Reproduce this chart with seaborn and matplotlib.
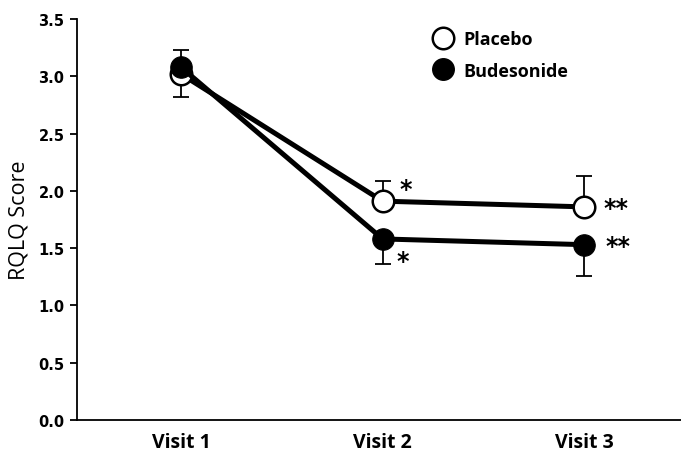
import numpy as np
import pandas as pd
import matplotlib
matplotlib.use('Agg')
import matplotlib.pyplot as plt
import seaborn as sns
from matplotlib.lines import Line2D

visits = ['Visit 1', 'Visit 2', 'Visit 3']
placebo = [3.02, 1.91, 1.86]
budesonide = [3.08, 1.58, 1.53]
# one-sided error bars (lower, upper)
placebo_err_lo = [0.20, 0.0, 0.0]
placebo_err_hi = [0.0, 0.18, 0.27]
bud_err_lo = [0.0, 0.22, 0.27]
bud_err_hi = [0.15, 0.0, 0.0]
stars_placebo = ['', '*', '**']
stars_bud = ['', '*', '**']

sns.set_style('ticks')
plt.rcParams['text.color'] = 'black'
plt.rcParams['axes.labelcolor'] = 'black'
plt.rcParams['xtick.color'] = 'black'
plt.rcParams['ytick.color'] = 'black'
plt.rcParams['axes.edgecolor'] = 'black'

df = pd.DataFrame({
    'visit': visits * 2,
    'x': list(range(3)) * 2,
    'score': placebo + budesonide,
    'group': ['Placebo'] * 3 + ['Budesonide'] * 3,
})

fig = plt.figure(figsize=(6.81, 4.56), dpi=100)
ax = fig.add_axes([0.113, 0.077, 0.887, 0.879])

x = np.arange(len(visits))
ax.errorbar(x, placebo, yerr=[placebo_err_lo, placebo_err_hi], fmt='none',
            ecolor='black', elinewidth=1.3, capsize=6, capthick=1.3, zorder=1)
ax.errorbar(x, budesonide, yerr=[bud_err_lo, bud_err_hi], fmt='none',
            ecolor='black', elinewidth=1.3, capsize=6, capthick=1.3, zorder=1)

sns.lineplot(data=df[df.group == 'Placebo'], x='x', y='score', color='black',
             lw=3.6, marker='o', markersize=15.5, markerfacecolor='white',
             markeredgecolor='black', markeredgewidth=1.8, ax=ax, zorder=3)
sns.lineplot(data=df[df.group == 'Budesonide'], x='x', y='score', color='black',
             lw=3.6, marker='o', markersize=15.5, markerfacecolor='black',
             markeredgecolor='black', ax=ax, zorder=4)

# significance stars (offsets in points from each marker)
star_off_placebo = [None, (12, 9), (14, -1)]
star_off_bud = [None, (10, -16), (15, -1)]
for i in range(3):
    if stars_placebo[i]:
        ax.annotate(stars_placebo[i], (x[i], placebo[i]),
                    xytext=star_off_placebo[i], textcoords='offset points',
                    fontsize=17, fontweight='bold', ha='left', va='center')
    if stars_bud[i]:
        ax.annotate(stars_bud[i], (x[i], budesonide[i]),
                    xytext=star_off_bud[i], textcoords='offset points',
                    fontsize=17, fontweight='bold', ha='left', va='center')

ax.set_xlim(-0.516, 2.48)
ax.set_ylim(0, 3.5)
ax.set_yticks(np.arange(0, 3.51, 0.5))
ax.set_yticklabels([f'{v:.1f}' for v in np.arange(0, 3.51, 0.5)],
                   fontsize=10.5, fontweight='bold', family='DejaVu Sans')
ax.set_xticks(x)
ax.set_xticklabels(visits, fontsize=14, fontweight='bold', family='Open Sans')
ax.tick_params(axis='x', length=0, pad=9)
ax.tick_params(axis='y', length=5, width=1.3, pad=4)
ax.set_xlabel('')
ax.set_ylabel('RQLQ Score', fontsize=15.5, family='Open Sans', labelpad=6)
sns.despine(ax=ax)
for s in ['left', 'bottom']:
    ax.spines[s].set_linewidth(1.3)

handles = [
    Line2D([], [], ls='none', marker='o', markersize=15.5, markerfacecolor='white',
           markeredgecolor='black', markeredgewidth=1.8),
    Line2D([], [], ls='none', marker='o', markersize=15.5, markerfacecolor='black',
           markeredgecolor='black'),
]
fig.legend(handles, ['Placebo', 'Budesonide'], loc='upper left',
           bbox_to_anchor=(416 / 681, 1 - 22 / 456), frameon=False,
           prop={'family': 'Open Sans', 'weight': 'bold', 'size': 13},
           handletextpad=0.1, labelspacing=0.75, borderpad=0)

fig.savefig('out.png', dpi=100)
